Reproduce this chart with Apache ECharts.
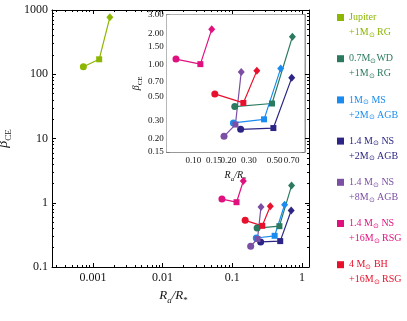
<!DOCTYPE html>
<html>
<head>
<meta charset="utf-8">
<script src="https://cdn.jsdelivr.net/npm/echarts@6/dist/echarts.min.js"></script>
<style>
  html, body { margin: 0; padding: 0; background: #fff; }
  #chart { width: 407px; height: 321px; }
</style>
</head>
<body>
<div id="chart"></div>
<script>
// values: [circle, square, diamond] for each system
const jupiterRa = [0.00073, 0.00123, 0.00175]
const jupiterBeta = [131, 171, 770]
const wdRa = [0.227, 0.474, 0.709]
const wdBeta = [0.404, 0.432, 1.85]
const msRa = [0.221, 0.405, 0.563]
const msBeta = [0.283, 0.306, 0.929]
const ns2Ra = [0.255, 0.487, 0.70]
const ns2Beta = [0.246, 0.253, 0.756]
const ns8Ra = [0.1835, 0.230, 0.258]
const ns8Beta = [0.211, 0.273, 0.861]
const ns16Ra = [0.071, 0.115, 0.144]
const ns16Beta = [1.14, 1.02, 2.18]
const bhRa = [0.153, 0.269, 0.351]
const bhBeta = [0.533, 0.4375, 0.881]

const systemNames = ["jup", "wd", "ms", "ns2", "ns8", "ns16", "bh"]
const legendLine1 = ["Jupiter", "0.7M⊙WD", "1M⊙ MS", "1.4 M⊙ NS", "1.4 M⊙ NS", "1.4 M⊙ NS", "4 M⊙ BH"]
const legendLine2 = ["+1M⊙ RG", "+1M⊙ RG", "+2M⊙ AGB", "+2M⊙ AGB", "+8M⊙ AGB", "+16M⊙ RSG", "+16M⊙ RSG"]
const colors = ["#8db600", "#2b7a60", "#1a8cf0", "#2c2585", "#7b4fa3", "#e0117f", "#e8112d"]
const raValues = [jupiterRa, wdRa, msRa, ns2Ra, ns8Ra, ns16Ra, bhRa]
const betaValues = [jupiterBeta, wdBeta, msBeta, ns2Beta, ns8Beta, ns16Beta, bhBeta]
const markers = ["circle", "rect", "diamond"]
const markerSizes = [7, 6, [7, 8]]

// axis ticks
const mainXTicks = [0.001, 0.01, 0.1, 1]
const mainXLabels = ["0.001", "0.01", "0.1", "1"]
const mainYTicks = [0.1, 1, 10, 100, 1000]
const mainYLabels = ["0.1", "1", "10", "100", "1000"]
const insetXTicks = [0.10, 0.15, 0.20, 0.30, 0.50, 0.70]
const insetXLabels = ["0.10", "0.15", "0.20", "0.30", "0.50", "0.70"]
const insetYTicks = [0.15, 0.20, 0.30, 0.50, 0.70, 1.00, 1.50, 2.00, 3.00]
const insetYLabels = ["0.15", "0.20", "0.30", "0.50", "0.70", "1.00", "1.50", "2.00", "3.00"]
const mainXRange = [0.000259, 1.26]
const mainYRange = [0.1, 1000]
const insetXRange = [0.0591, 0.901]
const insetYRange = [0.15, 3.0]

const FONT = "Liberation Serif"
const log = Math.log10

// 2..9 sub-ticks of each decade inside a range
function minorTicks(range) {
  const out = []
  for (let d = Math.floor(log(range[0])); d <= Math.ceil(log(range[1])); d++) {
    for (let k = 2; k <= 9; k++) {
      const v = k * Math.pow(10, d)
      if (v > range[0] && v < range[1]) out.push(v)
    }
  }
  return out
}

function mkAxis(o) {
  const tickLogs = o.ticks.map(log)
  const axis = {
    type: "value",
    gridIndex: o.grid,
    position: o.pos,
    min: log(o.range[0]),
    max: log(o.range[1]),
    axisLine: { show: !!o.line, onZero: false, lineStyle: { color: o.color, width: o.width || 1 } },
    axisTick: {
      show: true,
      inside: true,
      length: o.len,
      customValues: tickLogs,
      lineStyle: { color: o.color, width: 1 }
    },
    axisLabel: { show: false },
    splitLine: { show: false }
  }
  if (o.labels) {
    axis.axisLabel = {
      show: true,
      customValues: tickLogs,
      margin: o.margin,
      color: "#111",
      fontFamily: FONT,
      fontSize: o.fontSize,
      formatter: (v) => {
        const i = tickLogs.findIndex((t) => Math.abs(t - v) < 1e-6)
        return i >= 0 ? o.labels[i] : ""
      }
    }
  }
  if (o.name) {
    axis.name = o.name
    axis.nameLocation = "middle"
    axis.nameGap = o.nameGap
    axis.nameTextStyle = { fontFamily: FONT, color: "#111", rich: o.rich, padding: o.namePad || 0 }
  }
  return axis
}

const nameRich = (big, small) => ({
  i: { fontFamily: FONT, fontStyle: "italic", fontSize: big, lineHeight: big + 2, verticalAlign: "top", color: "#111" },
  s: { fontFamily: FONT, fontSize: small, lineHeight: small, padding: [Math.round(big * 0.55), 0, 0, 0], verticalAlign: "top", color: "#111" },
  si: { fontFamily: FONT, fontStyle: "italic", fontSize: small, lineHeight: small, padding: [Math.round(big * 0.55), 0, 0, 0], verticalAlign: "top", color: "#111" }
})
const raName = "{i|R}{si|a}{i|/R}{s|*}"
const betaName = "{i|β}{s|CE}"

const MAIN = "#000"
const INSET = "#777"

const xAxes = [
  mkAxis({ grid: 0, pos: "bottom", range: mainXRange, ticks: mainXTicks, labels: mainXLabels, line: true, color: MAIN, len: 4, margin: 5, fontSize: 12, name: raName, nameGap: 19, namePad: [0, 14, 0, 0], rich: nameRich(13, 9) }),
  mkAxis({ grid: 0, pos: "bottom", range: mainXRange, ticks: minorTicks(mainXRange), color: MAIN, len: 2 }),
  mkAxis({ grid: 0, pos: "top", range: mainXRange, ticks: mainXTicks, line: true, color: MAIN, len: 4 }),
  mkAxis({ grid: 0, pos: "top", range: mainXRange, ticks: minorTicks(mainXRange), color: MAIN, len: 2 }),
  mkAxis({ grid: 1, pos: "bottom", range: insetXRange, ticks: insetXTicks, labels: insetXLabels, line: true, color: INSET, width: 1.5, len: 3, margin: 4, fontSize: 9, name: raName, nameGap: 18, rich: nameRich(10, 7) }),
  mkAxis({ grid: 1, pos: "top", range: insetXRange, ticks: insetXTicks, line: true, color: INSET, width: 1.5, len: 3 })
]
const yAxes = [
  mkAxis({ grid: 0, pos: "left", range: mainYRange, ticks: mainYTicks, labels: mainYLabels, line: true, color: MAIN, len: 4, margin: 4, fontSize: 12, name: betaName, nameGap: 30, rich: nameRich(14, 9) }),
  mkAxis({ grid: 0, pos: "left", range: mainYRange, ticks: minorTicks(mainYRange), color: MAIN, len: 2 }),
  mkAxis({ grid: 0, pos: "right", range: mainYRange, ticks: mainYTicks, line: true, color: MAIN, len: 4 }),
  mkAxis({ grid: 0, pos: "right", range: mainYRange, ticks: minorTicks(mainYRange), color: MAIN, len: 2 }),
  mkAxis({ grid: 1, pos: "left", range: insetYRange, ticks: insetYTicks, labels: insetYLabels, line: true, color: INSET, width: 1.5, len: 3, margin: 3, fontSize: 9, name: betaName, nameGap: 23, rich: nameRich(10, 7) }),
  mkAxis({ grid: 1, pos: "right", range: insetYRange, ticks: insetYTicks, line: true, color: INSET, width: 1.5, len: 3 })
]

function points(i) {
  return raValues[i].map((ra, j) => ({
    value: [log(ra), log(betaValues[i][j])],
    symbol: markers[j],
    symbolSize: markerSizes[j]
  }))
}

const series = []
systemNames.forEach((name, i) => {
  const base = {
    name: name,
    type: "line",
    data: points(i),
    lineStyle: { color: colors[i], width: 1.2 },
    itemStyle: { color: colors[i] },
    emphasis: { disabled: true },
    z: 3
  }
  series.push(Object.assign({}, base, { xAxisIndex: 0, yAxisIndex: 0 }))
  if (i > 0) series.push(Object.assign({}, base, { data: points(i), xAxisIndex: 4, yAxisIndex: 4 }))
})

function richLine(s) {
  return s.split("⊙").map((p, k) => (k > 0 ? "{o|⊙}" : "") + (p ? "{t|" + p + "}" : "")).join("")
}

const chart = echarts.init(document.getElementById("chart"), null, { renderer: "canvas" })
chart.setOption({
  animation: false,
  backgroundColor: "#fff",
  grid: [
    { left: 52, top: 10, width: 257, height: 257, outerBoundsMode: "none" },
    { left: 166.7, top: 14.7, width: 137.8, height: 137.3, show: true, backgroundColor: "#fff", borderWidth: 0, outerBoundsMode: "none", z: 1 }
  ],
  xAxis: xAxes,
  yAxis: yAxes,
  legend: {
    orient: "vertical",
    left: 332,
    top: 7.5,
    icon: "rect",
    itemWidth: 7,
    itemHeight: 7,
    itemGap: 14.2,
    selectedMode: false,
    data: systemNames.map((n, i) => ({ name: n, textStyle: { color: colors[i] } })),
    formatter: (n) => {
      const i = systemNames.indexOf(n)
      return richLine(legendLine1[i]) + "\n" + richLine(legendLine2[i])
    },
    textStyle: {
      fontFamily: FONT,
      fontSize: 10,
      padding: [15, 0, 0, 0],
      rich: {
        t: { fontFamily: FONT, fontSize: 10, lineHeight: 15 },
        o: { fontFamily: FONT, fontSize: 7, lineHeight: 15, padding: [5, 0, 0, 0] }
      }
    }
  },
  series: series
})
</script>
</body>
</html>
